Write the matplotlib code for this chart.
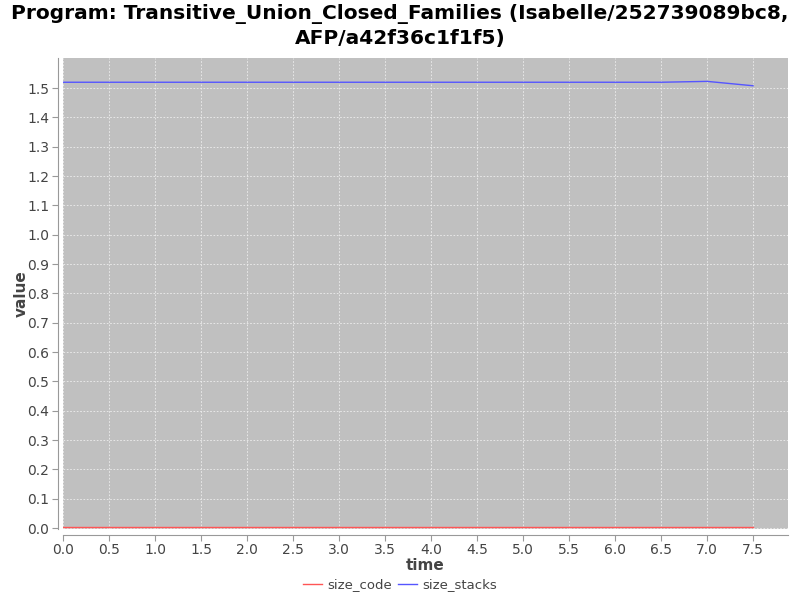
import matplotlib
matplotlib.use("Agg")
import matplotlib.pyplot as plt

time = [0.0, 0.5, 1.0, 1.5, 2.0, 2.5, 3.0, 3.5, 4.0, 4.5, 5.0, 5.5, 6.0, 6.5, 7.0, 7.5]
size_code = [0.005] * 16
size_stacks = [1.52, 1.52, 1.52, 1.52, 1.52, 1.52, 1.52, 1.52, 1.52, 1.52, 1.52, 1.52, 1.52, 1.52, 1.523, 1.508]
xticks = [0.0, 0.5, 1.0, 1.5, 2.0, 2.5, 3.0, 3.5, 4.0, 4.5, 5.0, 5.5, 6.0, 6.5, 7.0, 7.5]
yticks = [0.0, 0.1, 0.2, 0.3, 0.4, 0.5, 0.6, 0.7, 0.8, 0.9, 1.0, 1.1, 1.2, 1.3, 1.4, 1.5]

plt.rcParams['font.family'] = ['DejaVu Sans']
fig = plt.figure(figsize=(8, 6), dpi=100)
ax = fig.add_axes([0.079, 0.118, 0.906, 0.785])
ax.set_facecolor('#c0c0c0')

ax.plot(time, size_code, color='#ff5555', lw=1, label='size_code')
ax.plot(time, size_stacks, color='#5555ff', lw=1, label='size_stacks')

ax.set_xlim(0.0, 7.88)
ax.set_ylim(-0.004, 1.602)
ax.set_xticks(xticks)
ax.set_xticklabels([f"{v:.1f}" for v in xticks])
ax.set_yticks(yticks)
ax.set_yticklabels([f"{v:.1f}" for v in yticks])
ax.grid(True, color='#eeeeee', ls=(0, (2, 2)), lw=0.6)
ax.set_axisbelow(True)

for s in ['top', 'right']:
    ax.spines[s].set_visible(False)
for s in ['left', 'bottom']:
    ax.spines[s].set_position(('outward', 4))
    ax.spines[s].set_color('#999999')
ax.tick_params(axis='both', colors='#999999', labelcolor='#444444', labelsize=10, length=4, pad=2)

ax.set_xlabel('time', fontsize=11, fontweight='bold', color='#444444', labelpad=1)
ax.yaxis.set_label_coords(-0.048, 0.5)
ax.set_ylabel('value', fontsize=11, fontweight='bold', color='#444444')

fig.suptitle('Program: Transitive_Union_Closed_Families (Isabelle/252739089bc8,\nAFP/a42f36c1f1f5)',
             fontsize=14.5, fontweight='bold', y=0.993, linespacing=1.3)

fig.legend(loc='lower center', ncol=2, frameon=False, fontsize=9.5, bbox_to_anchor=(0.5, -0.005),
           handlelength=1.5, handletextpad=0.4, columnspacing=0.4, labelcolor='#444444')

fig.savefig('out.png', dpi=100)
